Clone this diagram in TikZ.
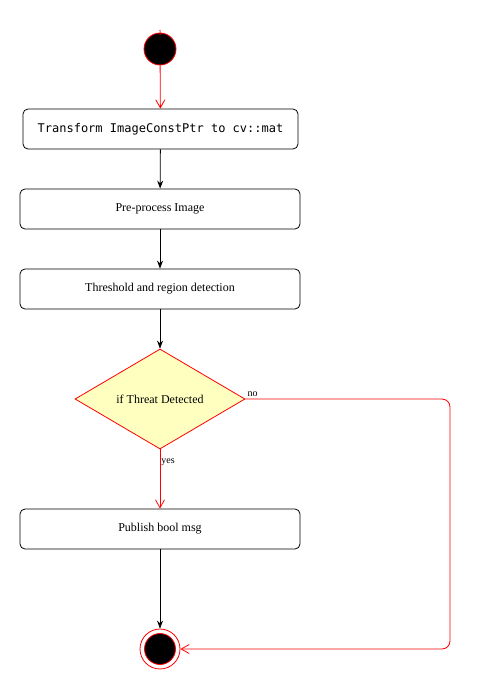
\documentclass[tikz,border=0pt]{standalone}
\usepackage{fontspec}
\setmainfont{Liberation Serif}
\setmonofont{DejaVu Sans Mono}
\usetikzlibrary{arrows.meta,shapes.geometric,positioning}
\definecolor{flowred}{HTML}{FF0000}
\definecolor{decfill}{HTML}{FFFFC0}
\tikzset{
  actbox/.style={draw,rounded corners=5pt,line width=0.8pt,minimum height=40pt,inner sep=0pt,font=\fontsize{12}{14}\selectfont},
  decbox/.style={diamond,draw=flowred,fill=decfill,line width=0.8pt,minimum width=170pt,minimum height=100pt,inner sep=0pt,aspect=1.7,font=\fontsize{12}{14}\selectfont},
  blackflow/.style={line width=0.8pt,-{Stealth[length=8pt,width=6pt]}},
  redflow/.style={draw=flowred,line width=0.8pt,-{Straight Barb[length=8pt,width=9pt]}},
  flowlabel/.style={font=\fontsize{10}{12}\selectfont,inner sep=1pt}
}
\begin{document}
\begin{tikzpicture}[x=1pt,y=-1pt]
\useasboundingbox (0,0) rectangle (482,691);
\node[circle,fill=black,draw=flowred,line width=0.8pt,minimum size=32pt,inner sep=0pt] (start) at (160,49) {};
\node[text=flowred,font=\fontsize{8}{9}\selectfont,inner sep=0pt,anchor=south] (startnum) at (160,36) {1};
%%%%%%%%%%%%%%%%
\node[actbox,minimum width=275pt] (transform) at (160.5,129) {\ttfamily Transform ImageConstPtr to cv::mat};
\node[actbox,minimum width=280pt] (preproc) at (160,209) {Pre-process Image};
\node[actbox,minimum width=280pt] (thresh) at (160,289) {Threshold and region detection};
\node[decbox] (threat) at (160,399) {if Threat Detected};
\node[actbox,minimum width=280pt] (publish) at (160,529) {Publish bool msg};
%%%%%%%%%%%%%%%%
\node[circle,draw=flowred,line width=0.8pt,minimum size=40pt,inner sep=0pt] (finish) at (160,649) {};
\node[circle,fill=black,draw=flowred,line width=0.8pt,minimum size=31pt,inner sep=0pt] (finishin) at (finish) {};
\coordinate (noturn) at (450,399);
%%%%%%%%%%%%%%%%
\draw[redflow] (start) -- (transform);
\draw[blackflow] (transform) -- (preproc);
\draw[blackflow] (preproc) -- (thresh);
\draw[blackflow] (thresh) -- (threat);
\draw[redflow] (threat) -- node[flowlabel,anchor=west,pos=0.22] {yes} (publish);
\draw[blackflow] (publish) -- (finish);
\draw[redflow,rounded corners=8pt] (threat.east) -- (noturn) |- (finish.east);
\node[flowlabel,anchor=south west] (nolabel) at ([xshift=1pt,yshift=1pt]threat.east) {no};
\end{tikzpicture}
\end{document}
